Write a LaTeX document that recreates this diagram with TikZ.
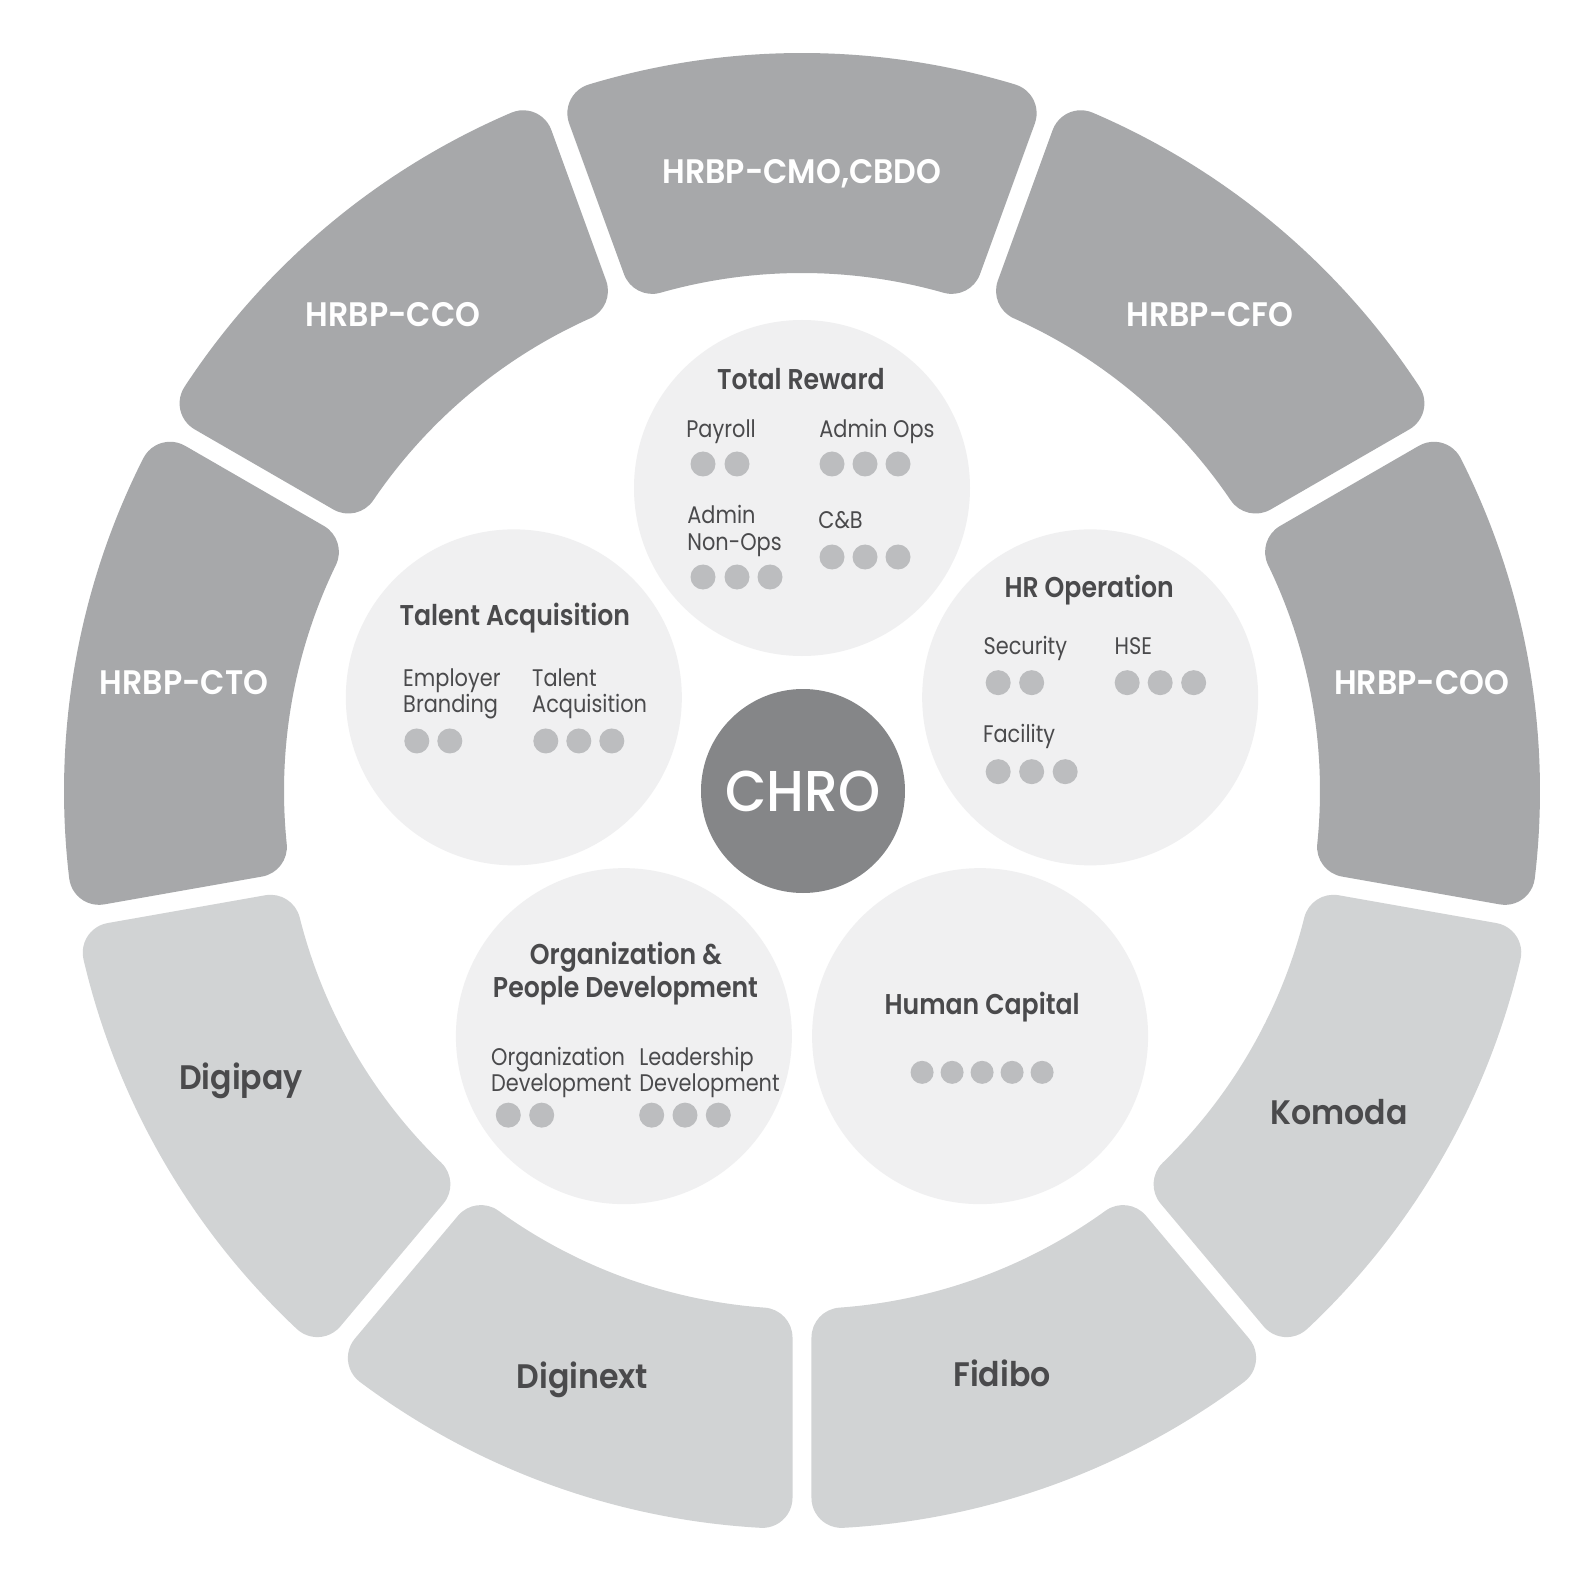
\documentclass[tikz,border=0pt]{standalone}
\usepackage{fontspec}
\setmainfont{Poppins}[FakeStretch=0.87]
\newfontfamily\psemi{Poppins SemiBold}[FakeStretch=0.93]
\newfontfamily\psemiT{Poppins SemiBold}[FakeStretch=0.88]
\newfontfamily\pmed{Poppins Medium}[FakeStretch=0.93]
\usetikzlibrary{calc}
\definecolor{segdark}{HTML}{A7A8AA}
\definecolor{seglight}{HTML}{D1D3D4}
\definecolor{circ}{HTML}{F0F0F1}
\definecolor{dotc}{HTML}{BCBDBF}
\definecolor{chroc}{HTML}{858688}
\definecolor{txt}{HTML}{4A4A4C}
\begin{document}
\begin{tikzpicture}[x=0.5pt,y=0.5pt]
\tikzset{
 seglab/.style={anchor=base, inner sep=0pt, font=\psemi\fontsize{17}{20}\selectfont},
 hrbp/.style={seglab, text=white},
 comp/.style={seglab, text=txt},
 ttl/.style={anchor=base, inner sep=0pt, text=txt, font=\psemiT\fontsize{14.3}{17}\selectfont},
 sublab/.style={anchor=base west, inner sep=0pt, text=txt, font=\fontsize{12}{14}\selectfont},
 bubble/.style={fill=circ},
 dotmark/.style={fill=dotc},
}
% canvas
\fill[white] (-802,-789) rectangle (792,791);
% ring segments
\foreach \c/\sty in {90/segdark,50/segdark,10/segdark,-30/seglight,-70/seglight,-110/seglight,-150/seglight,170/segdark,130/segdark}{
  \pgfmathsetmacro\ta{\c-20}
  \pgfmathsetmacro\tb{\c+20}
  \pgfmathsetmacro\aIa{\ta+4.133}
  \pgfmathsetmacro\aOa{\ta+3.198}
  \pgfmathsetmacro\aOb{\tb-3.198}
  \pgfmathsetmacro\aIb{\tb-4.133}
  \pgfmathsetmacro\na{\ta-90}
  \pgfmathsetmacro\nb{\tb+90}
  \pgfmathsetmacro\fa{\tb+180-4.133}
  \pgfmathsetmacro\fb{\ta+4.133+180}
  \pgfmathsetmacro\fc{\ta+270}
  \fill[\sty] ($(\aIa:548)+(\na:30)$) -- ($(\aOa:708)+(\na:30)$)
    arc[start angle=\na, end angle=\aOa, radius=30]
    arc[start angle=\aOa, end angle=\aOb, radius=738]
    arc[start angle=\aOb, end angle=\nb, radius=30]
    -- ($(\aIb:548)+(\nb:30)$)
    arc[start angle=\nb, end angle=\fa, radius=30]
    arc[start angle=\aIb, end angle=\aIa, radius=518]
    arc[start angle=\fb, end angle=\fc, radius=30] -- cycle;
}
% segment labels
\node[hrbp] (cmo) at (0,607.7) {HRBP-CMO,CBDO};
\node[hrbp] (cfo) at (408,464.3) {HRBP-CFO};
\node[hrbp] (coo) at (619.5,96.3) {HRBP-COO};
\node[hrbp] (cto) at (-618,96.3) {HRBP-CTO};
\node[hrbp] (cco) at (-409,464.3) {HRBP-CCO};
\node[comp] (komoda) at (537,-333) {Komoda};
\node[comp] (fidibo) at (200,-595) {Fidibo};
\node[comp] (diginext) at (-219.5,-597.5) {Diginext};
\node[comp] (digipay) at (-561,-298.3) {Digipay};
% inner bubbles
\foreach \a in {90,162,18,234,306}{\fill[bubble] (\a:303) circle[radius=168];}
% CHRO
\fill[chroc] (1,0) circle[radius=102];
\node[anchor=base, inner sep=0pt, text=white, font=\pmed\fontsize{28.8}{32}\selectfont] (chro) at (1,-20) {CHRO};
% Total Reward
\begin{scope}[shift={(90:303)}]
\node[ttl] (tr-t) at (-1,98) {Total Reward};
\node[sublab] (tr-pay) at (-116,50) {Payroll};
\node[sublab] (tr-ops) at (17,50) {Admin Ops};
\node[sublab] (tr-non1) at (-115,-36) {Admin};
\node[sublab] (tr-non2) at (-115,-62) {Non-Ops};
\node[sublab] (tr-cb) at (16,-40) {C\&B};
\foreach \x/\y in {-99/24,-65/24,30/24,63/24,96/24,-99/-89,-65/-89,-32/-89,30/-69,63/-69,96/-69}
  {\fill[dotmark] (\x,\y) circle[radius=12.5];}
\end{scope}
% Talent Acquisition
\begin{scope}[shift={(162:303)}]
\node[ttl] (ta-t) at (1,71.4) {Talent Acquisition};
\node[sublab] (ta-e1) at (-111,10.7) {Employer};
\node[sublab] (ta-e2) at (-111,-15.3) {Branding};
\node[sublab] (ta-a1) at (18,10.7) {Talent};
\node[sublab] (ta-a2) at (18,-15.3) {Acquisition};
\foreach \x in {-97,-64,32,65,98}{\fill[dotmark] (\x,-43.6) circle[radius=12.5];}
\end{scope}
% HR Operation
\begin{scope}[shift={(18:303)}]
\node[ttl] (hro-t) at (-1,99.7) {HR Operation};
\node[sublab] (hro-s) at (-107,42.4) {Security};
\node[sublab] (hro-h) at (24,42.4) {HSE};
\node[sublab] (hro-f) at (-107.5,-45.3) {Facility};
\foreach \x/\y in {-92/14.7,-58.5/14.7,37/14.7,70/14.7,103.5/14.7,-92/-74.3,-58.5/-74.3,-25/-74.3}
  {\fill[dotmark] (\x,\y) circle[radius=12.5];}
\end{scope}
% Organization & People Development
\begin{scope}[shift={(234:303)}]
\node[ttl] (opd-t1) at (2,72) {Organization \&};
\node[ttl] (opd-t2) at (1.6,38.8) {People Development};
\node[sublab] (opd-o1) at (-133.2,-29) {Organization};
\node[sublab] (opd-o2) at (-133.2,-55.6) {Development};
\node[sublab] (opd-l1) at (15,-29) {Leadership};
\node[sublab] (opd-l2) at (15,-55.6) {Development};
\foreach \x in {-115.6,-82.2,27.8,61.1,94.4}{\fill[dotmark] (\x,-79) circle[radius=12.5];}
\end{scope}
% Human Capital
\begin{scope}[shift={(306:303)}]
\node[ttl] (hc-t) at (2,21.8) {Human Capital};
\foreach \x in {-58,-28,2,32,62}{\fill[dotmark] (\x,-36.2) circle[radius=11.5];}
\end{scope}
\end{tikzpicture}
\end{document}
